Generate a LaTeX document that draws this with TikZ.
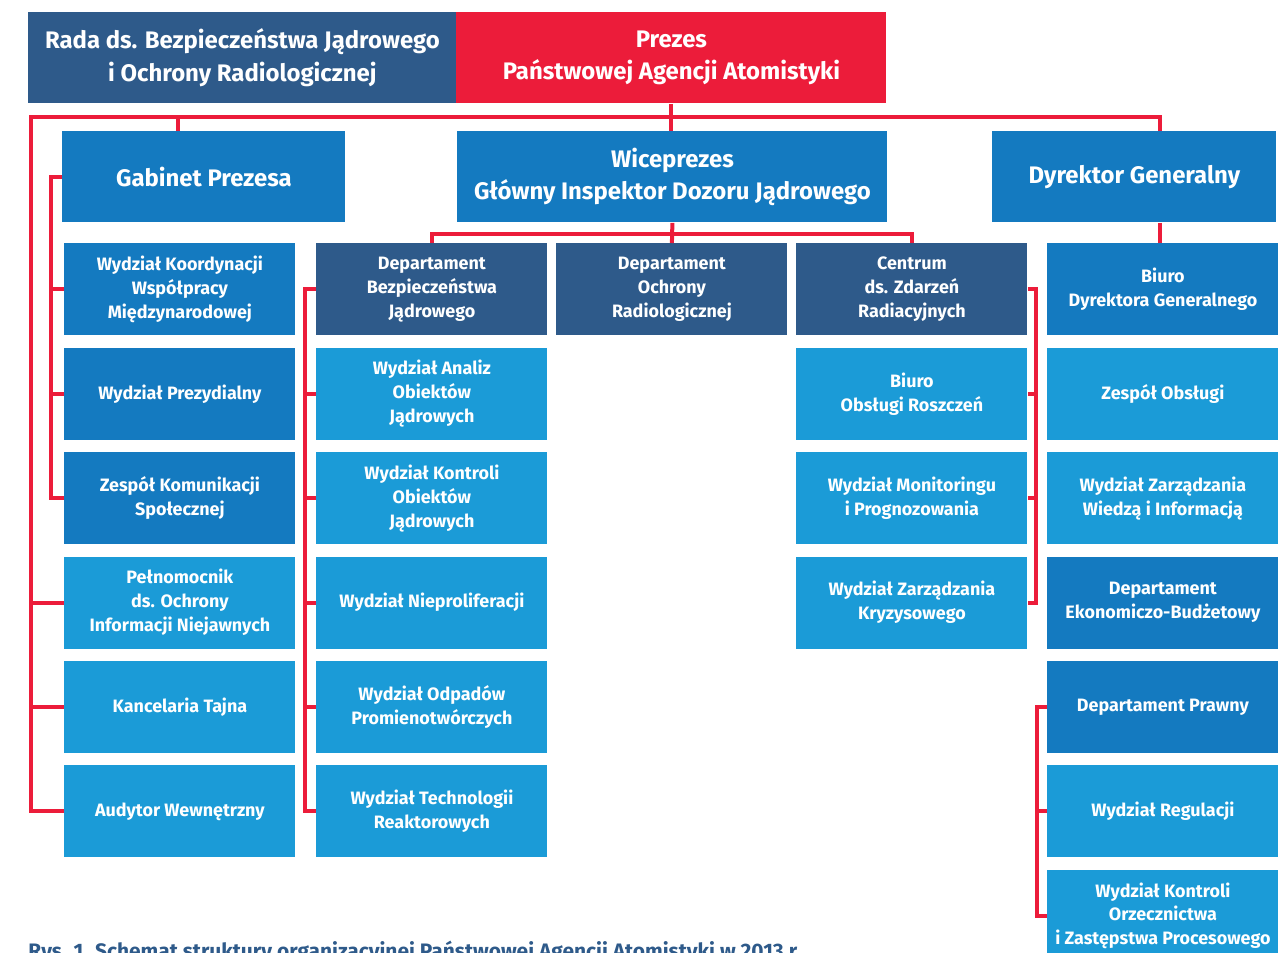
\documentclass[tikz,border=0pt]{standalone}
\usepackage{fontspec}
\setmainfont{Fira Sans}
\usetikzlibrary{positioning}

\definecolor{paared}{RGB}{236,28,58}
\definecolor{paanavy}{RGB}{46,90,138}
\definecolor{paablue}{RGB}{20,122,192}
\definecolor{paalight}{RGB}{27,155,215}

\newcommand{\orgsmall}{\bfseries\fontsize{9}{12}\selectfont}
\newcommand{\orglarge}{\bfseries\fontsize{12}{16.5}\selectfont}

\tikzstyle{unit} = [rectangle, minimum width=115.5bp, minimum height=46bp, inner sep=0pt, text=white, align=center, font=\orgsmall]
\tikzstyle{dept} = [unit, fill=paanavy]
\tikzstyle{office} = [unit, fill=paablue]
\tikzstyle{section} = [unit, fill=paalight]
\tikzstyle{head} = [rectangle, minimum height=45.5bp, inner sep=0pt, text=white, align=center, font=\orglarge, anchor=north west]
\tikzstyle{link} = [line width=2bp, draw=paared]

\begin{document}
\begin{tikzpicture}[x=0.5bp, y=-0.5bp, node distance=5.8bp]
\useasboundingbox (0,0) rectangle (1284,952);

% top level
\node (rada) [head, fill=paanavy, minimum width=214bp] at (28,12) {Rada ds. Bezpieczeństwa Jądrowego\\i Ochrony Radiologicznej};
\node (prezes) [head, fill=paared, minimum width=215bp] at (456,12) {Prezes\\Państwowej Agencji Atomistyki};

\node (gabinet) [head, fill=paablue, minimum width=141.5bp] at (62,131) {Gabinet Prezesa};
\node (wiceprezes) [head, fill=paablue, minimum width=215bp] at (457,131) {Wiceprezes\\Główny Inspektor Dozoru Jądrowego};
\node (dyrektor) [head, fill=paablue, minimum width=142bp] at (992,131) {Dyrektor Generalny};

% Gabinet Prezesa column
\node (wkoord) [office, anchor=north west] at (64,243) {Wydział Koordynacji\\Współpracy\\Międzynarodowej};
\node (wprez) [office, below=of wkoord] {Wydział Prezydialny};
\node (zkom) [office, below=of wprez] {Zespół Komunikacji\\Społecznej};
\node (peln) [section, below=of zkom] {Pełnomocnik\\ds. Ochrony\\Informacji Niejawnych};
\node (kanc) [section, below=of peln] {Kancelaria Tajna};
\node (audyt) [section, below=of kanc] {Audytor Wewnętrzny};

% Departament Bezpieczenstwa Jadrowego
\node (dbj) [dept, anchor=north west] at (316,243) {Departament\\Bezpieczeństwa\\Jądrowego};
\node (wanaliz) [section, below=of dbj] {Wydział Analiz\\Obiektów\\Jądrowych};
\node (wkontr) [section, below=of wanaliz] {Wydział Kontroli\\Obiektów\\Jądrowych};
\node (wnieprol) [section, below=of wkontr] {Wydział Nieproliferacji};
\node (wodpad) [section, below=of wnieprol] {Wydział Odpadów\\Promienotwórczych};
\node (wtech) [section, below=of wodpad] {Wydział Technologii\\Reaktorowych};

\node (dor) [dept, anchor=north west] at (556,243) {Departament\\Ochrony\\Radiologicznej};

% Centrum ds. Zdarzen Radiacyjnych
\node (czr) [dept, anchor=north west] at (796,243) {Centrum\\ds. Zdarzeń\\Radiacyjnych};
\node (bors) [section, below=of czr] {Biuro\\Obsługi Roszczeń};
\node (wmon) [section, below=of bors] {Wydział Monitoringu\\i Prognozowania};
\node (wkryz) [section, below=of wmon] {Wydział Zarządzania\\Kryzysowego};

% Dyrektor Generalny column
\node (bdg) [office, anchor=north west] at (1047,243) {Biuro\\Dyrektora Generalnego};
\node (zobs) [section, below=of bdg] {Zespół Obsługi};
\node (wzwi) [section, below=of zobs] {Wydział Zarządzania\\Wiedzą i Informacją};
\node (dekon) [office, below=of wzwi] {Departament\\Ekonomiczo-Budżetowy};
\node (dprawny) [office, below=of dekon] {Departament Prawny};
\node (wreg) [section, below=of dprawny] {Wydział Regulacji};
\node (wkorz) [section, below=of wreg] {Wydział Kontroli\\Orzecznictwa\\i Zastępstwa Procesowego};

\node (caption) [anchor=base west, inner sep=0pt, text=paanavy, font=\bfseries\fontsize{10.5}{12}\selectfont] at (28,958) {Rys. 1. Schemat struktury organizacyjnej Państwowej Agencji Atomistyki w 2013 r.};

% red bus under Prezes
\coordinate (busL) at (31,117);
\coordinate (busR) at (1160,117);
\coordinate (gtop) at ([xshift=-13bp]gabinet.north);
\draw [link] (prezes.south) -- (prezes.south |- wiceprezes.north);
\draw [link] (audyt.west) -| (busL) -- (busR) -- (busR |- dyrektor.north);
\draw [link] (gtop) -- (gtop |- busL);
\draw [link] (peln.west) -- (peln.west -| busL);
\draw [link] (kanc.west) -- (kanc.west -| busL);
\draw [link] (busR |- dyrektor.south) -- (busR |- bdg.north);

\draw [link] (gabinet.west) -- ++(-11,0) |- (zkom.west);
\draw [link] (wkoord.west) -- ++(-13,0);
\draw [link] (wprez.west) -- ++(-13,0);

\draw [link] (wiceprezes.south) -- (dor.north);
\draw [link] (dbj.north) -- ++(0,-9) -| (czr.north);

\draw [link] (dbj.west) -- ++(-11,0) |- (wtech.west);
\draw [link] (wanaliz.west) -- ++(-11,0);
\draw [link] (wkontr.west) -- ++(-11,0);
\draw [link] (wnieprol.west) -- ++(-11,0);
\draw [link] (wodpad.west) -- ++(-11,0);

\draw [link] (czr.east) -- ++(8,0) |- (wkryz.east);
\draw [link] (bors.east) -- ++(8,0);
\draw [link] (wmon.east) -- ++(8,0);

\draw [link] (dprawny.west) -- ++(-10,0) |- (wkorz.west);
\draw [link] (wreg.west) -- ++(-10,0);

\end{tikzpicture}
\end{document}
